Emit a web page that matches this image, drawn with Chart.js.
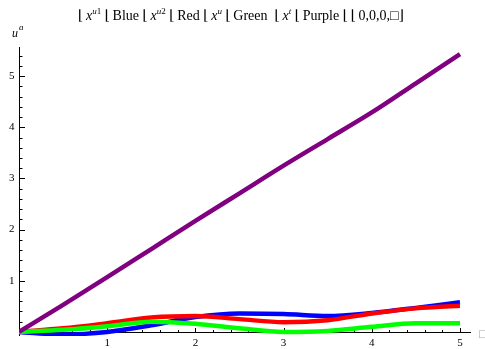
<!doctype html>
<html lang="en">
<head>
<meta charset="utf-8">
<title>u^a</title>
<script src="https://cdn.jsdelivr.net/npm/chart.js"></script>
<style>
  body { margin: 0; background: #fff; }
  #wrap { position: relative; width: 485px; height: 349px; }
</style>
</head>
<body>
<div id="wrap"><canvas id="chart1"></canvas></div>
<script>
// sampled times and the four components
const tValues      = [0, 0.5, 1, 1.5, 2, 2.5, 3, 3.5, 4, 4.5, 5];
const blueValues   = [0, -0.05, 0.0, 0.13, 0.29, 0.36, 0.35, 0.31, 0.37, 0.47, 0.58];
const redValues    = [0, 0.07, 0.17, 0.28, 0.31, 0.25, 0.19, 0.23, 0.36, 0.46, 0.51];
const greenValues  = [0, 0.04, 0.11, 0.2, 0.16, 0.07, 0.0, 0.02, 0.1, 0.17, 0.17];
const purpleValues = [0, 0.53, 1.07, 1.62, 2.17, 2.71, 3.25, 3.77, 4.29, 4.86, 5.43];

const xTickLabels = [1, 2, 3, 4, 5];
const yTickLabels = [1, 2, 3, 4, 5];

const serif = '"Liberation Serif", "DejaVu Serif", serif';

function toPoints(ys) {
  return tValues.map((t, i) => ({ x: t, y: ys[i] }));
}

function makeSet(label, ys, color, order) {
  return {
    label: label,
    data: toPoints(ys),
    borderColor: color,
    borderWidth: 4.5,
    pointRadius: 0,
    cubicInterpolationMode: 'monotone',
    order: order
  };
}

// axes through the origin with inward ticks, drawn under the curves
const axesPlugin = {
  id: 'mathAxes',
  beforeDatasetsDraw(chart) {
    const ctx = chart.ctx;
    const xs = chart.scales.x, ys = chart.scales.y;
    const area = chart.chartArea;
    const x0 = Math.round(xs.getPixelForValue(0)) + 0.5;
    const y0 = Math.round(ys.getPixelForValue(0)) + 0.5;
    ctx.save();
    ctx.strokeStyle = '#000';
    ctx.lineWidth = 1;
    ctx.beginPath();
    ctx.moveTo(x0, y0); ctx.lineTo(area.right, y0);
    ctx.moveTo(x0, area.top); ctx.lineTo(x0, area.bottom);
    ctx.stroke();

    // x ticks every 0.2
    ctx.beginPath();
    for (let i = 1; i / 5 <= xs.max; i++) {
      const px = Math.round(xs.getPixelForValue(i / 5)) + 0.5;
      const len = i % 5 === 0 ? 4.5 : 2.5;
      ctx.moveTo(px, y0); ctx.lineTo(px, y0 - len);
    }
    // y ticks every 0.2
    for (let i = 1; i / 5 <= ys.max; i++) {
      const py = Math.round(ys.getPixelForValue(i / 5)) + 0.5;
      const len = i % 5 === 0 ? 5.5 : 3;
      ctx.moveTo(x0, py); ctx.lineTo(x0 + len, py);
    }
    ctx.stroke();

    ctx.fillStyle = '#000';
    ctx.font = '11px ' + serif;
    ctx.textAlign = 'center';
    ctx.textBaseline = 'middle';
    xTickLabels.forEach(v => ctx.fillText(String(v), xs.getPixelForValue(v), y0 + 11));
    ctx.textAlign = 'right';
    yTickLabels.forEach(v => ctx.fillText(String(v), x0 - 5, ys.getPixelForValue(v)));

    // axis labels
    ctx.textAlign = 'left';
    ctx.textBaseline = 'alphabetic';
    ctx.font = 'italic 12px ' + serif;
    ctx.fillText('u', 12, 37);
    ctx.font = 'italic 9px ' + serif;
    ctx.fillText('a', 19, 30);
    ctx.fillStyle = '#aaa';
    ctx.font = '10px "DejaVu Sans", sans-serif';
    ctx.fillText('\u25A1', 478, y0 + 4);
    ctx.restore();
  }
};

// header line with superscripted symbols; 'b' parts are the bracket marks
const titleParts = [
  ['\u230A', 'b'], ['x', 'i'], ['u', 'is'], ['1', 'rs'], [' ', 'r'],
  ['\u230A', 'b'], ['Blue ', 'r'], ['\u230A', 'b'], ['x', 'i'], ['u', 'is'], ['2', 'rs'], [' ', 'r'],
  ['\u230A', 'b'], ['Red ', 'r'], ['\u230A', 'b'], ['x', 'i'], ['u', 'is'], [' ', 'r'],
  ['\u230A', 'b'], ['Green  ', 'r'], ['\u230A', 'b'], ['x', 'i'], ['t', 'is'], [' ', 'r'],
  ['\u230A', 'b'], ['Purple ', 'r'], ['\u230A', 'b'], ['\u230A', 'b'], ['0,0,0,\u25A1\u230B', 'r']
];
const titleLeft = 78, titleRight = 404;

function partFont(style) {
  const italic = style[0] === 'i' ? 'italic ' : '';
  const size = style.length > 1 ? 9 : 14;
  return italic + size + 'px ' + serif;
}

const titlePlugin = {
  id: 'mathTitle',
  afterDraw(chart) {
    const ctx = chart.ctx;
    ctx.save();
    ctx.fillStyle = '#000';
    ctx.textBaseline = 'alphabetic';
    ctx.textAlign = 'left';
    let total = 0, marks = 0;
    titleParts.forEach(p => {
      ctx.font = partFont(p[1]);
      total += ctx.measureText(p[0]).width;
      if (p[1] === 'b') marks++;
    });
    const pad = Math.max(0, (titleRight - titleLeft - total) / marks);
    let x = titleLeft;
    const base = 20;
    titleParts.forEach(p => {
      ctx.font = partFont(p[1]);
      ctx.fillText(p[0], x, p[1].length > 1 ? base - 6 : base);
      x += ctx.measureText(p[0]).width + (p[1] === 'b' ? pad : 0);
    });
    ctx.restore();
  }
};

const ctx1 = document.getElementById('chart1').getContext('2d');
new Chart(ctx1, {
  type: 'line',
  data: {
    datasets: [
      makeSet('Blue', blueValues, 'rgb(0,0,255)', 3),
      makeSet('Red', redValues, 'rgb(255,0,0)', 2),
      makeSet('Green', greenValues, 'rgb(0,255,0)', 1),
      makeSet('Purple', purpleValues, 'rgb(128,0,128)', 0)
    ]
  },
  options: {
    responsive: true,
    maintainAspectRatio: false,
    animation: false,
    layout: { padding: { left: 19, right: 14, top: 47, bottom: 13 } },
    plugins: { legend: { display: false }, tooltip: { enabled: false } },
    scales: {
      x: { type: 'linear', min: 0, max: 5.125, display: false },
      y: { type: 'linear', min: -0.08, max: 5.57, display: false }
    }
  },
  plugins: [axesPlugin, titlePlugin]
});
</script>
</body>
</html>
